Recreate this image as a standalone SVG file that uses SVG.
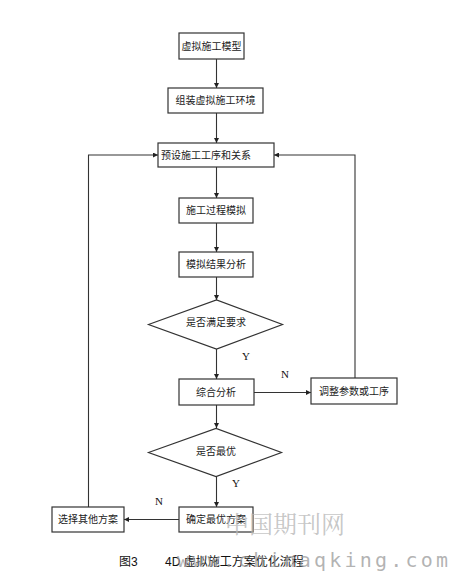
<svg xmlns="http://www.w3.org/2000/svg" width="452" height="582" viewBox="0 0 452 582">
<style>
.box{fill:#fff;stroke:#333;stroke-width:1.2}
.t{font-family:"Liberation Sans","Noto Sans CJK SC",sans-serif;font-size:10px;fill:#222;text-anchor:middle;dominant-baseline:central}
.yn{font-family:"Liberation Serif",serif;font-size:11px;fill:#111}
.c{fill:none;stroke:#333;stroke-width:1.1}
</style>
<defs>
<marker id="a" viewBox="0 0 6 6" refX="6" refY="3" markerWidth="5" markerHeight="5" orient="auto" markerUnits="userSpaceOnUse">
<path d="M0,0L6,3L0,6z" fill="#222"/>
</marker>
</defs>
<rect width="452" height="582" fill="#fff"/>
<g id="connectors">
<path class="c" d="M216.5,59V88" marker-end="url(#a)"/>
<path class="c" d="M216.5,113V143" marker-end="url(#a)"/>
<path class="c" d="M216.5,167V198" marker-end="url(#a)"/>
<path class="c" d="M216.5,223V252" marker-end="url(#a)"/>
<path class="c" d="M216.5,277V300" marker-end="url(#a)"/>
<path class="c" d="M216.5,349V379" marker-end="url(#a)"/>
<path class="c" d="M254,392.5H311" marker-end="url(#a)"/>
<path class="c" d="M355,378V155H274" marker-end="url(#a)"/>
<path class="c" d="M216.5,405V428" marker-end="url(#a)"/>
<path class="c" d="M216.5,477V507" marker-end="url(#a)"/>
<path class="c" d="M179,519.5H124" marker-end="url(#a)"/>
<path class="c" d="M88.5,507V155H158" marker-end="url(#a)"/>
<text class="yn" x="242" y="360">Y</text>
<text class="yn" x="281" y="378">N</text>
<text class="yn" x="232" y="487">Y</text>
<text class="yn" x="155" y="505">N</text>
</g>
<g id="n1"><rect class="box" x="179" y="33" width="65" height="26"/><text class="t" x="211.5" y="46">虚拟施工模型</text></g>
<g id="n2"><rect class="box" x="168" y="88" width="95" height="25"/><text class="t" x="215.5" y="100.5">组装虚拟施工环境</text></g>
<g id="n3"><rect class="box" x="158" y="143" width="116" height="24"/><text class="t" x="206" y="155">预设施工工序和关系</text></g>
<g id="n4"><rect class="box" x="179" y="198" width="74" height="25"/><text class="t" x="216" y="210.5">施工过程模拟</text></g>
<g id="n5"><rect class="box" x="179" y="252" width="74" height="25"/><text class="t" x="216" y="264.5">模拟结果分析</text></g>
<g id="d1"><polygon class="box" points="148.5,324.5 216.5,300 282.5,324.5 216.5,349"/><text class="t" x="216" y="322">是否满足要求</text></g>
<g id="n6"><rect class="box" x="179" y="379" width="75" height="26"/><text class="t" x="216" y="392">综合分析</text></g>
<g id="n7"><rect class="box" x="311" y="378" width="86" height="26"/><text class="t" x="354" y="391">调整参数或工序</text></g>
<g id="d2"><polygon class="box" points="148.5,452.5 216,428.5 281.5,452.5 216,476.5"/><text class="t" x="216" y="451">是否最优</text></g>
<g id="n8"><rect class="box" x="179" y="507" width="74" height="25"/><text class="t" x="216" y="519.5">确定最优方案</text></g>
<g id="n9"><rect class="box" x="52" y="507" width="72" height="25"/><text class="t" x="88" y="519.5">选择其他方案</text></g>
<text x="225" y="533" font-family="'Noto Serif CJK SC','Noto Sans CJK SC',serif" font-size="24" fill="#b8b8b8" fill-opacity="0.8">中国期刊网</text>
<text x="119" y="566" font-family="'Liberation Sans','Noto Sans CJK SC',sans-serif" font-size="12" fill="#111">图3</text>
<text x="165" y="566" font-family="'Liberation Sans','Noto Sans CJK SC',sans-serif" font-size="12" fill="#111">4D 虚拟施工方案优化流程</text>
<text x="177" y="567" font-family="'DejaVu Sans Mono','Liberation Mono',monospace" font-size="20" fill="#9a9a9a" fill-opacity="0.75" textLength="271">www.chinaqking.com</text>
</svg>
